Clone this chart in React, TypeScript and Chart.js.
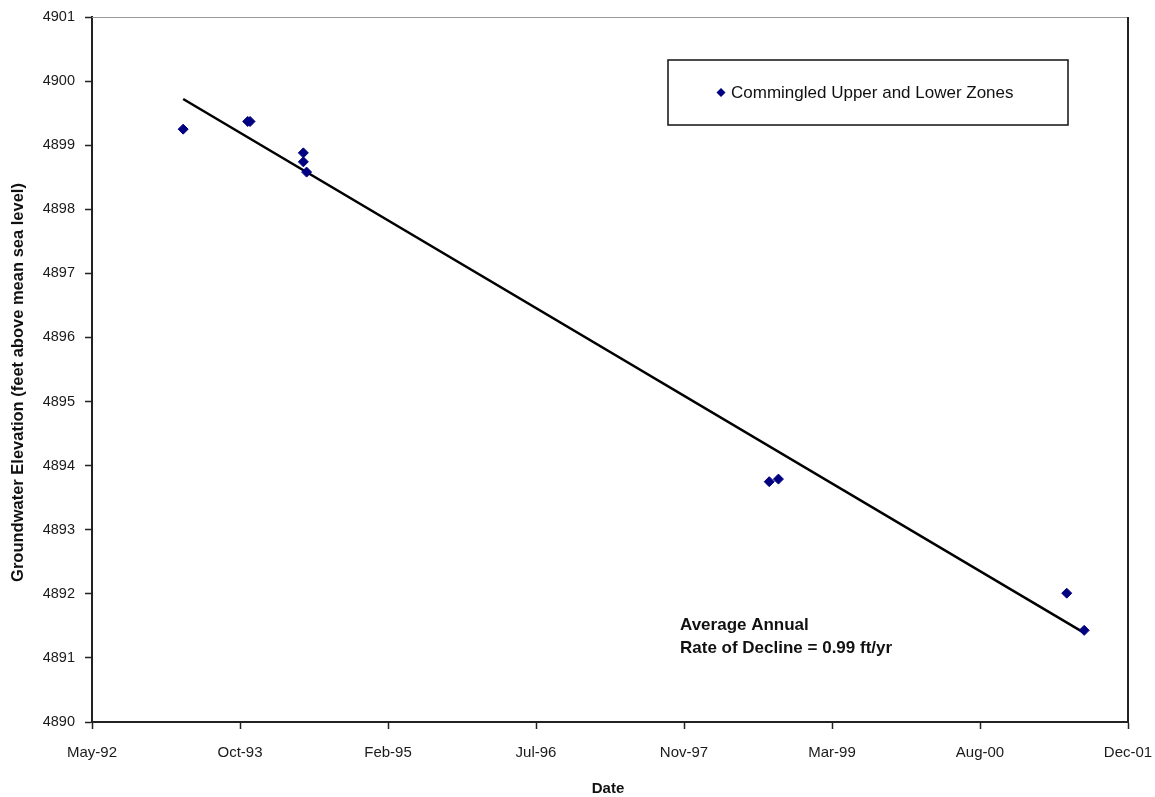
import React, { useEffect, useRef } from 'react';
import { Chart, registerables } from 'chart.js';

Chart.register(...registerables);

// ---- data (dates as Excel serial day numbers) ----
const seriesLabel = 'Commingled Upper and Lower Zones';
const obsDates = [34058, 34276, 34284, 34464, 34464, 34475, 36038, 36069, 37043, 37102];
const obsElev = [4899.25, 4899.37, 4899.37, 4898.88, 4898.74, 4898.58, 4893.75, 4893.79, 4892.01, 4891.43];
const trendDates = [34058, 37102];
const trendElev = [4899.72, 4891.39];
const xTickValues = [33750, 34250, 34750, 35250, 35750, 36250, 36750, 37250];
const xTickLabels = ['May-92', 'Oct-93', 'Feb-95', 'Jul-96', 'Nov-97', 'Mar-99', 'Aug-00', 'Dec-01'];
const yMin = 4890;
const yMax = 4901;
const xTitle = 'Date';
const yTitle = 'Groundwater Elevation (feet above mean sea level)';
const noteLines = ['Average Annual', 'Rate of Decline = 0.99 ft/yr'];

const FONT = "'Liberation Sans', Arial, sans-serif";
const MARKER = '#000080';

const decorPlugin = {
  id: 'decor',
  afterDraw(chart: any) {
    const { ctx, chartArea: ca } = chart;
    ctx.save();
    // top border (light) and right border (dark)
    ctx.strokeStyle = '#9a9a9a';
    ctx.lineWidth = 1;
    ctx.beginPath();
    ctx.moveTo(ca.left, ca.top + 0.5);
    ctx.lineTo(ca.right, ca.top + 0.5);
    ctx.stroke();
    ctx.strokeStyle = '#222';
    ctx.lineWidth = 2;
    ctx.beginPath();
    ctx.moveTo(ca.right, ca.top);
    ctx.lineTo(ca.right, ca.bottom);
    ctx.stroke();

    // legend box
    const lx = ca.right - 460;
    const rx = ca.right - 60;
    const ty = ca.top + 43;
    const by = ca.top + 108;
    ctx.fillStyle = '#fff';
    ctx.fillRect(lx, ty, rx - lx, by - ty);
    ctx.strokeStyle = '#111';
    ctx.lineWidth = 1.5;
    ctx.strokeRect(lx, ty, rx - lx, by - ty);
    const my = (ty + by) / 2;
    const mx = lx + 53;
    ctx.fillStyle = MARKER;
    ctx.beginPath();
    ctx.moveTo(mx - 4.5, my);
    ctx.lineTo(mx, my - 4.5);
    ctx.lineTo(mx + 4.5, my);
    ctx.lineTo(mx, my + 4.5);
    ctx.closePath();
    ctx.fill();
    ctx.fillStyle = '#111';
    ctx.font = `17px ${FONT}`;
    ctx.textAlign = 'left';
    ctx.textBaseline = 'middle';
    ctx.fillText(seriesLabel, lx + 63, my + 1);

    // annotation
    ctx.font = `bold 17px ${FONT}`;
    ctx.fillStyle = '#111';
    ctx.fillText(noteLines[0], ca.left + 588, ca.bottom - 97);
    ctx.fillText(noteLines[1], ca.left + 588, ca.bottom - 74);

    // axis titles
    ctx.font = `bold 15px ${FONT}`;
    ctx.textAlign = 'center';
    ctx.fillText(xTitle, (ca.left + ca.right) / 2 - 2, ca.bottom + 67);
    ctx.save();
    ctx.translate(18, (ca.top + ca.bottom) / 2 + 13);
    ctx.rotate(-Math.PI / 2);
    ctx.font = `bold 16.5px ${FONT}`;
    ctx.fillText(yTitle, 0, 0);
    ctx.restore();
    ctx.restore();
  },
};

export default function App() {
  const ref = useRef<HTMLCanvasElement | null>(null);
  useEffect(() => {
    if (!ref.current) return;
    const chart = new Chart(ref.current, {
      type: 'scatter',
      data: {
        datasets: [
          {
            label: seriesLabel,
            data: obsDates.map((d, i) => ({ x: d, y: obsElev[i] })),
            pointStyle: 'rectRot',
            pointRadius: 5,
            pointBackgroundColor: MARKER,
            pointBorderColor: MARKER,
            pointBorderWidth: 1,
            showLine: false,
          },
          {
            label: 'Trend',
            data: trendDates.map((d, i) => ({ x: d, y: trendElev[i] })),
            showLine: true,
            borderColor: '#000',
            borderWidth: 2.5,
            pointRadius: 0,
          },
        ],
      },
      options: {
        animation: false,
        responsive: true,
        maintainAspectRatio: false,
        layout: { padding: { top: 17, right: 27, left: 0, bottom: 0 } },
        plugins: {
          legend: { display: false },
          tooltip: { enabled: false },
        },
        scales: {
          x: {
            type: 'linear',
            min: xTickValues[0],
            max: xTickValues[xTickValues.length - 1],
            afterBuildTicks: (scale: any) => {
              scale.ticks = xTickValues.map((v) => ({ value: v }));
            },
            afterFit: (scale: any) => {
              scale.height = 75;
              scale.paddingLeft = 0;
              scale.paddingRight = 0;
            },
            grid: {
              drawOnChartArea: false,
              drawTicks: true,
              tickLength: 7,
              tickColor: '#222',
              tickWidth: 1.5,
            },
            border: { display: true, color: '#222', width: 2 },
            ticks: {
              padding: 15,
              maxRotation: 0,
              autoSkip: false,
              color: '#1a1a1a',
              font: { family: FONT, size: 15 },
              callback: (v: any) => {
                const i = xTickValues.indexOf(Number(v));
                return i >= 0 ? xTickLabels[i] : '';
              },
            },
          },
          y: {
            type: 'linear',
            min: yMin,
            max: yMax,
            afterFit: (scale: any) => {
              scale.width = 92;
              scale.paddingTop = 0;
              scale.paddingBottom = 0;
            },
            grid: {
              drawOnChartArea: false,
              drawTicks: true,
              tickLength: 7,
              tickColor: '#222',
              tickWidth: 1.5,
            },
            border: { display: true, color: '#222', width: 2 },
            ticks: {
              stepSize: 1,
              padding: 10,
              color: '#1a1a1a',
              font: { family: FONT, size: 14.5 },
              callback: (v: any) => String(v),
            },
          },
        },
      },
      plugins: [decorPlugin],
    });
    return () => chart.destroy();
  }, []);
  return (
    <div style={{ position: 'fixed', left: 0, top: 0, width: 1155, height: 797, background: '#fff' }}>
      <canvas ref={ref} />
    </div>
  );
}
